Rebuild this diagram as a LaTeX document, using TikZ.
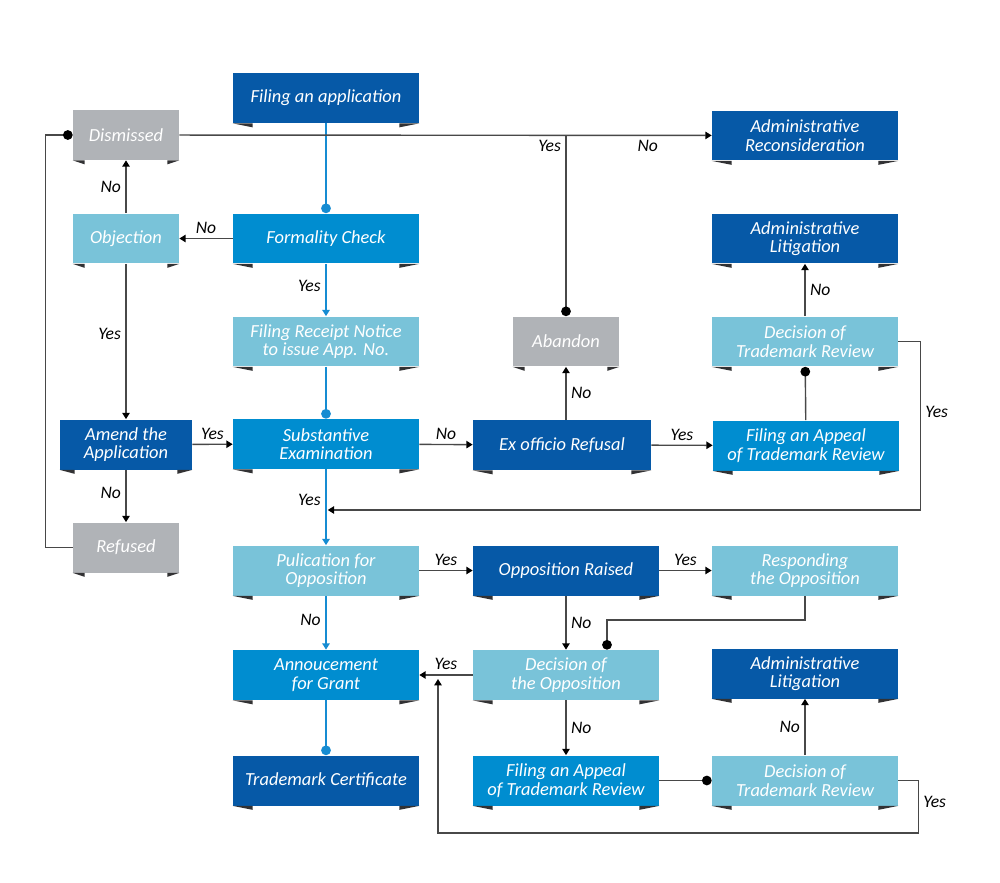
\documentclass[tikz,border=0pt]{standalone}
\usepackage{fontspec}
\setmainfont{Carlito}
\usetikzlibrary{arrows.meta}

\definecolor{tmdark}{RGB}{6,89,167}
\definecolor{tmmid}{RGB}{0,141,208}
\definecolor{tmlight}{RGB}{121,195,217}
\definecolor{tmgray}{RGB}{176,179,183}
\definecolor{tmline}{RGB}{72,72,72}
\definecolor{tmflow}{RGB}{22,140,210}
\definecolor{tmtab}{RGB}{50,50,52}

\tikzset{
  box/.style={rectangle, fill=#1, text=white, minimum width=3.72cm, minimum height=1cm,
    inner sep=0pt, align=center, font=\fontsize{10.5}{10.6}\selectfont\itshape},
  lbl/.style={font=\fontsize{10}{11}\selectfont\itshape, text=black, inner sep=2.5pt},
  link/.style={draw=tmline, line width=0.8pt, -{Triangle[length=3.6pt,width=4.2pt,color=black]}},
  dotlink/.style={draw=tmline, line width=0.8pt, -{Circle[length=5.5pt,color=black]}},
  flow/.style={draw=tmflow, line width=1.1pt, -{Triangle[length=3.6pt,width=4.2pt]}},
  dotflow/.style={draw=tmflow, line width=1.1pt, -{Circle[length=5.5pt]}},
}

\begin{document}
\begin{tikzpicture}[x=0.02cm,y=-0.02cm]
\useasboundingbox[fill=white] (0,0) rectangle (1000,882);

% boxes
\node[box=tmdark] (fil) at (326,98){Filing an application};
\node[box=tmgray, minimum width=2.12cm] (dis) at (126,135){Dismissed};
\node[box=tmdark] (adr) at (805,135.5){Administrative\\Reconsideration};
\node[box=tmlight, minimum width=2.12cm] (obj) at (126,238.5){Objection};
\node[box=tmmid] (frm) at (326,238.5){Formality Check};
\node[box=tmdark] (adl1) at (805,238.5){Administrative\\Litigation};
\node[box=tmlight] (rcp) at (326,341.5){Filing Receipt Notice\\to issue App. No.};
\node[box=tmgray, minimum width=2.12cm] (abn) at (566,341.5){Abandon};
\node[box=tmlight] (dtr1) at (805,341.5){Decision of\\Trademark Review};
\node[box=tmdark, minimum width=2.64cm] (amd) at (126,444.5){Amend the\\Application};
\node[box=tmmid] (sub) at (326,444){Substantive\\Examination};
\node[box=tmdark, minimum width=3.56cm] (exo) at (562,445){Ex officio Refusal};
\node[box=tmmid] (fap1) at (806,445.5){Filing an Appeal\\of Trademark Review};
\node[box=tmgray, minimum width=2.12cm] (ref) at (126,547.5){Refused};
\node[box=tmlight] (pub) at (326,570.5){Pulication for\\Opposition};
\node[box=tmdark] (opr) at (566,570.5){Opposition Raised};
\node[box=tmlight] (rsp) at (805,570.5){Responding\\the Opposition};
\node[box=tmmid] (ann) at (326,675){Annoucement\\for Grant};
\node[box=tmlight] (dop) at (566,675){Decision of\\the Opposition};
\node[box=tmdark] (adl2) at (805,673.5){Administrative\\Litigation};
\node[box=tmdark] (crt) at (326,780.5){Trademark Certificate};
\node[box=tmmid] (fap2) at (566,780.5){Filing an Appeal\\of Trademark Review};
\node[box=tmlight] (dtr2) at (805,780.5){Decision of\\Trademark Review};

% folded corners under the boxes
\foreach \n/\w in {fil/20,dis/12,adr/20,obj/12,frm/20,adl1/20,rcp/20,abn/12,dtr1/20,
  amd/15,sub/20,exo/20,fap1/20,ref/12,pub/20,opr/20,rsp/20,ann/20,dop/20,adl2/20,
  crt/20,fap2/20,dtr2/20}{
  \fill[tmtab] (\n.south west) -- ++(\w,0) -- ++(0,4) -- cycle;
  \fill[tmtab] (\n.south east) -- ++(-\w,0) -- ++(0,4) -- cycle;
}

% main flow
\draw[dotflow] (fil) -- (frm);
\draw[flow] (frm) -- node[lbl,left,pos=0.42]{Yes} (rcp);
\draw[dotflow] (rcp) -- (sub);
\draw[flow] (sub) -- node[lbl,left,pos=0.4]{Yes} (pub);
\draw[flow] (pub) -- node[lbl,left,pos=0.45]{No} (ann);
\draw[dotflow] (ann) -- (crt);

% left side
\draw[link] (frm) -- node[lbl,above]{No} (obj);
\draw[link] (obj) -- node[lbl,left]{No} (dis);
\draw[link] (obj) -- node[lbl,left,pos=0.45]{Yes} (amd);
\draw[link] (amd) -- node[lbl,above]{Yes} (sub);
\draw[link] (amd) -- node[lbl,left,pos=0.45]{No} (ref);
\draw[dotlink] (ref.west) -- ++(-27,0) |- (dis.west);

% top
\coordinate (j1) at (abn.north |- dis.east);
\draw[link] (dis) -- node[lbl,below,pos=0.88]{No} (adr);
\draw[dotlink] (j1) -- node[lbl,left,pos=0.06]{Yes} (abn.north);

% refusal branch
\draw[link] (sub) -- node[lbl,above]{No} (exo);
\draw[link] (exo.north -| abn.south) -- node[lbl,right]{No} (abn.south);
\draw[link] (exo) -- node[lbl,above]{Yes} (fap1);
\draw[dotlink] (fap1) -- (dtr1);
\draw[link] (dtr1) -- node[lbl,right]{No} (adl1);
\coordinate (j2) at (sub.south |- 0,510);
\draw[link] (dtr1.east) -- ++(22,0) |- node[lbl,right,pos=0.21]{Yes} ([xshift=1pt]j2);

% opposition branch
\draw[link] (pub) -- node[lbl,above]{Yes} (opr);
\draw[link] (opr) -- node[lbl,above]{Yes} (rsp);
\draw[link] (opr) -- node[lbl,right]{No} (dop);
\draw[dotlink] (rsp.south) -- ++(0,24) -| ([xshift=0.82cm]dop.north);
\draw[link] (dop) -- node[lbl,above]{Yes} (ann);
\draw[link] (dop) -- node[lbl,right]{No} (fap2);
\draw[dotlink] (fap2) -- (dtr2);
\draw[link] (dtr2) -- node[lbl,left]{No} (adl2);
\coordinate (j4) at (438,679);
\draw[link] (dtr2.east) -- ++(20,0) |- node[lbl,right,pos=0.2]{Yes} (j4 |- 0,833) -- (j4);

\end{tikzpicture}
\end{document}
